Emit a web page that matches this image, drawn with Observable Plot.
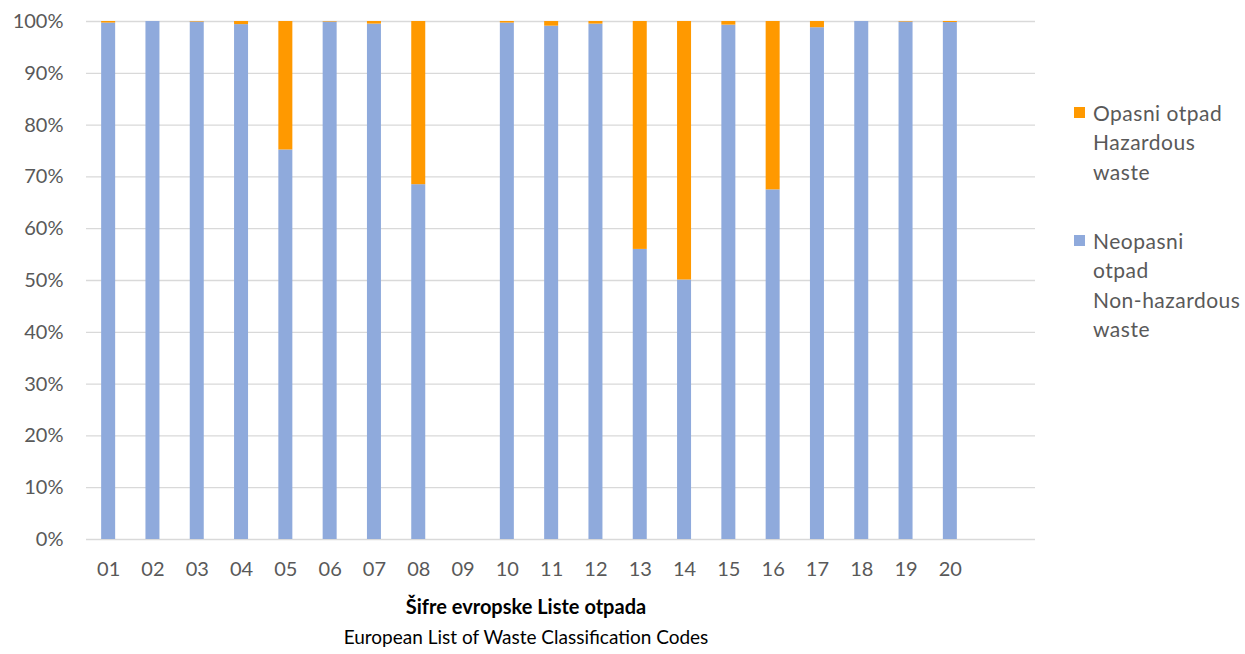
<!DOCTYPE html>
<html>
<head>
<meta charset="utf-8">
<script src="https://cdn.jsdelivr.net/npm/d3@7"></script>
<script src="https://cdn.jsdelivr.net/npm/@observablehq/plot@0.6"></script>
<style>
  body { margin: 0; background: #fff; font-family: Lato, sans-serif; }
  #wrap { position: relative; width: 1245px; height: 654px; overflow: hidden; }
  #chart { position: absolute; left: 0; top: 0; }
  .legend { position: absolute; left: 1074px; color: #595959; font-size: 21px; line-height: 29.3px; letter-spacing: 0.5px; white-space: nowrap; }
  .legend .row { position: relative; padding-left: 19px; }
  .legend .sw { position: absolute; left: 0; top: 9px; width: 11px; height: 11px; }
  .axtitle { position: absolute; left: 0; width: 1052px; text-align: center; font-size: 19px; color: #000; }
</style>
</head>
<body>
<div id="wrap">
  <div id="chart"></div>
  <div class="legend" style="top:98px">
    <div class="row"><span class="sw" style="background:#FF9900"></span>Opasni otpad<br>Hazardous<br>waste</div>
  </div>
  <div class="legend" style="top:226px">
    <div class="row"><span class="sw" style="background:#8FAADC"></span>Neopasni<br>otpad<br>Non-hazardous<br>waste</div>
  </div>
  <div class="axtitle" style="top:594px;font-weight:bold;font-size:20px">Šifre evropske Liste otpada</div>
  <div class="axtitle" style="top:625px">European List of Waste Classification Codes</div>
</div>
<script>
const codes = ["01","02","03","04","05","06","07","08","09","10","11","12","13","14","15","16","17","18","19","20"];
const nonHazardous = [99.7, 100, 99.9, 99.4, 75.2, 99.9, 99.5, 68.5, null, 99.7, 99.1, 99.5, 56.0, 50.1, 99.3, 67.5, 98.8, 100, 99.9, 99.8];
const hazardous    = [0.3, 0, 0.1, 0.6, 24.8, 0.1, 0.5, 31.5, null, 0.3, 0.9, 0.5, 44.0, 49.9, 0.7, 32.5, 1.2, 0, 0.1, 0.2];
const seriesNames = ["Neopasni otpad", "Opasni otpad"];
const seriesColors = ["#8FAADC", "#FF9900"];
const yTicks = [0,10,20,30,40,50,60,70,80,90,100];

const rows = [];
codes.forEach((c, i) => {
  if (nonHazardous[i] != null) rows.push({code: c, series: seriesNames[0], value: nonHazardous[i]});
});
codes.forEach((c, i) => {
  if (hazardous[i] != null) rows.push({code: c, series: seriesNames[1], value: hazardous[i]});
});

const W = 1245, H = 590;
const mL = 86, mR = 210, mT = 21, mB = 51;
const step = 44.3;

const chart = Plot.plot({
  width: W,
  height: H,
  marginLeft: mL,
  marginRight: mR,
  marginTop: mT,
  marginBottom: mB,
  style: { fontFamily: "Lato, sans-serif", fontSize: "20px", color: "#595959", background: "transparent" },
  x: { type: "band", domain: codes, range: [mL, mL + step * codes.length], paddingInner: 0.684, paddingOuter: 0.342, round: false, label: null },
  y: { domain: [0, 100], label: null },
  color: { domain: seriesNames, range: seriesColors },
  marks: [
    Plot.ruleY(yTicks, { stroke: "#d9d9d9", strokeWidth: 1.3 }),
    Plot.barY(rows, Plot.stackY({ x: "code", y: "value", fill: "series", order: seriesNames })),
    Plot.axisY(yTicks, { tickSize: 0, tickPadding: 23, tickFormat: d => d + "%", fill: "#595959", fontSize: 20 }),
    Plot.axisX(codes, { tickSize: 0, tickPadding: 22, fill: "#595959", fontSize: 20 })
  ]
});
document.getElementById("chart").appendChild(chart);
</script>
</body>
</html>
